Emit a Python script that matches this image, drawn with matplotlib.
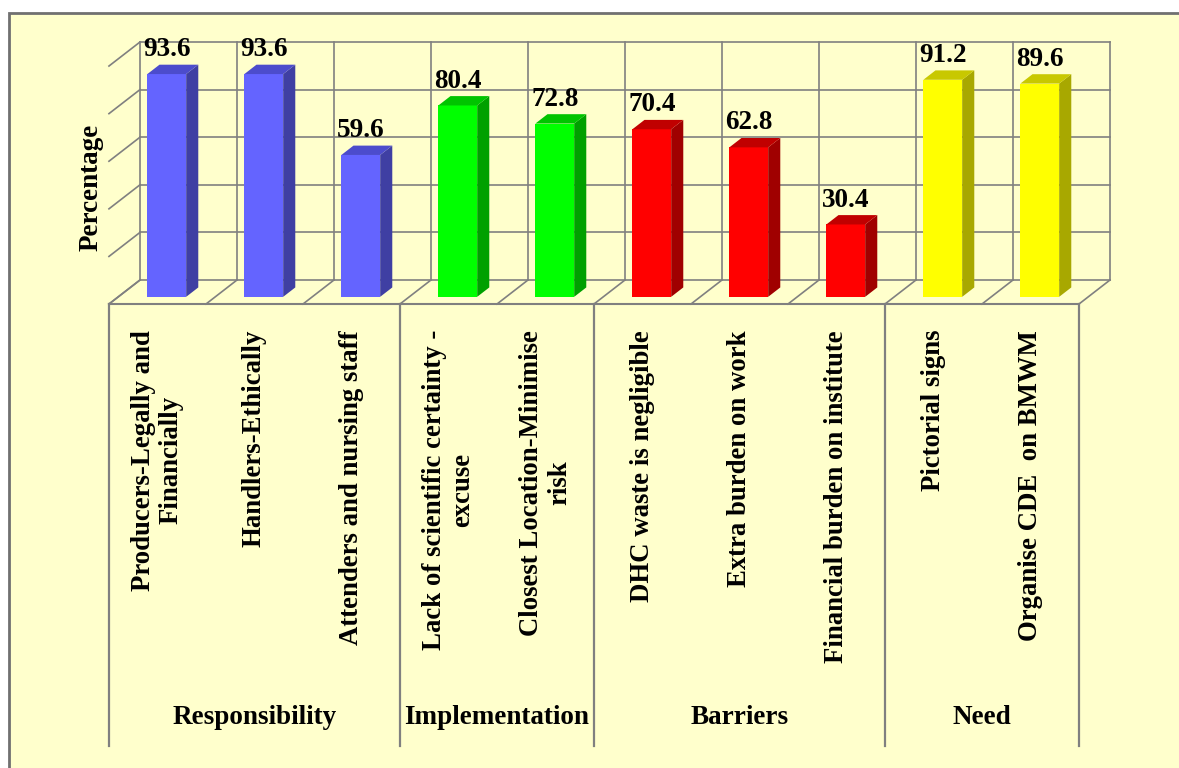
import matplotlib.pyplot as plt
from matplotlib.patches import Rectangle

labels = ['Producers-Legally and\nFinancially', 'Handlers-Ethically',
          'Attenders and nursing staff', 'Lack of scientific certainty -\nexcuse',
          'Closest Location-Minimise\nrisk', 'DHC waste is negligible',
          'Extra burden on work', 'Financial burden on institute',
          'Pictorial signs', 'Organise CDE  on BMWM']
values = [93.6, 93.6, 59.6, 80.4, 72.8, 70.4, 62.8, 30.4, 91.2, 89.6]
groups = ['Responsibility', 'Implementation', 'Barriers', 'Need']
group_sizes = [3, 2, 3, 2]
group_colors = {
    'Responsibility': ('#6464FF', '#3F3FA3', '#4C4CCC'),
    'Implementation': ('#00FF00', '#00A000', '#00C400'),
    'Barriers': ('#FF0000', '#A00000', '#C00000'),
    'Need': ('#FFFF00', '#A8A800', '#C8C800'),
}
yticks = [0, 20, 40, 60, 80, 100]

W, H = 1179, 768
BG = '#FFFFCC'
GRID = '#808080'
FONT = 'Liberation Serif'

# oblique depth: shift per unit depth (x in category units, y in percent)
kx, ky = 0.32, 10.1
d_front, d_back = 0.70, 0.31
bar_w = 0.4


def proj(x, y, d):
    return x - d * kx, y - d * ky


fig = plt.figure(figsize=(W / 100, H / 100), dpi=100)
fig.patch.set_facecolor('white')
fig.patches.append(Rectangle((9 / W, -0.1), 1.2, 1 - 13 / H + 0.1,
                             transform=fig.transFigure, facecolor=BG,
                             edgecolor='#707070', linewidth=2, zorder=-10))

ax = fig.add_axes([140 / W, 1 - 280 / H, 970 / W, 238 / H])
ax.set_xlim(-0.5, len(values) - 0.5)
ax.set_ylim(0, 100)
ax.axis('off')

n = len(values)
lkw = dict(color=GRID, lw=1.2, clip_on=False, zorder=1)

# back wall
for t in yticks:
    ax.plot([-0.5, n - 0.5], [t, t], **lkw)
for k in range(n + 1):
    ax.plot([k - 0.5, k - 0.5], [0, 100], **lkw)
# left wall
for t in yticks:
    x0, y0 = proj(-0.5, t, 1)
    ax.plot([-0.5, x0], [t, y0], **lkw)
# floor
for k in range(n + 1):
    x0, y0 = proj(k - 0.5, 0, 1)
    ax.plot([k - 0.5, x0], [0, y0], **lkw)
fx0, fy = proj(-0.5, 0, 1)
fx1, _ = proj(n - 0.5, 0, 1)
ax.plot([fx0, fx1], [fy, fy], color=GRID, lw=1.5, clip_on=False, zorder=1)

# bars
cats = []
for g, s in zip(groups, group_sizes):
    cats += [g] * s
for i, (v, g) in enumerate(zip(values, cats)):
    front, side, top = group_colors[g]
    l, r = i - bar_w / 2, i + bar_w / 2
    fl = proj(l, 0, d_front)
    fr = proj(r, 0, d_front)
    ftl = proj(l, v, d_front)
    ftr = proj(r, v, d_front)
    br = proj(r, 0, d_back)
    btr = proj(r, v, d_back)
    btl = proj(l, v, d_back)
    ax.fill([fl[0], fr[0], ftr[0], ftl[0]], [fl[1], fr[1], ftr[1], ftl[1]],
            color=front, clip_on=False, zorder=3, lw=0)
    ax.fill([fr[0], br[0], btr[0], ftr[0]], [fr[1], br[1], btr[1], ftr[1]],
            color=side, clip_on=False, zorder=3, lw=0)
    ax.fill([ftl[0], ftr[0], btr[0], btl[0]], [ftl[1], ftr[1], btr[1], btl[1]],
            color=top, clip_on=False, zorder=3, lw=0)
    tx, _ = proj(i, v, d_front)
    ax.text(tx, v - d_back * ky + 3.6, f'{v:.1f}', ha='center', va='baseline',
            fontsize=19.5, fontweight='bold', family=FONT, zorder=4)

# category table under the floor
table_bottom = -196
edges = [0]
for s in group_sizes:
    edges.append(edges[-1] + s)
for e in edges:
    x0, _ = proj(e - 0.5, 0, 1)
    ax.plot([x0, x0], [fy, table_bottom], color=GRID, lw=1.6, clip_on=False, zorder=1)
for i, lab in enumerate(labels):
    x0, _ = proj(i, 0, 1)
    ax.text(x0, -21, lab, rotation=90, ha='center', va='top',
            multialignment='center', fontsize=19.3, fontweight='bold',
            family=FONT, linespacing=1.15)
for g, a, b in zip(groups, edges[:-1], edges[1:]):
    x0, _ = proj((a + b - 1) / 2, 0, 1)
    ax.text(x0, -184, g, ha='center', va='center', fontsize=19.5,
            fontweight='bold', family=FONT)

ax.text(-1.005, 39, 'Percentage', rotation=90, ha='center', va='center',
        fontsize=19.5, fontweight='bold', family=FONT)

fig.savefig('out.png', dpi=100, facecolor=fig.get_facecolor())
